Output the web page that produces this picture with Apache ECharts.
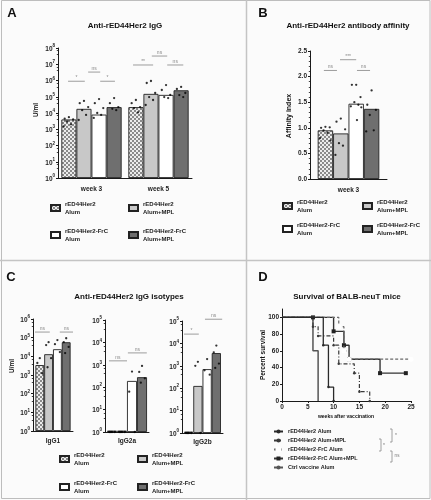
<!DOCTYPE html>
<html><head><meta charset="utf-8">
<script src="https://cdn.jsdelivr.net/npm/echarts@6/dist/echarts.min.js"></script>
<style>html,body{margin:0;padding:0;background:#fbfbfb}#c{width:431px;height:500px}</style>
</head><body><div id="c"></div>
<script>
const FONT = 'Liberation Sans, Arial, sans-serif';
const GROUPS = ['rED44Her2\nAlum', 'rED44Her2\nAlum+MPL', 'rED44Her2-FrC\nAlum', 'rED44Her2-FrC\nAlum+MPL'];

// Panel A
const A_CATEGORIES = ['week 3', 'week 5'];
const A_BARS = [[4000, 23000], [18000, 150000], [8000, 130000], [23000, 250000]];
const A_DOTS = [
  [[5500, 4500, 4000, 3000, 2000, 1500], [63000, 40000, 23000, 20000, 11000]],
  [[55000, 40000, 23000, 15000, 7600, 3700], [930000, 700000, 170000, 95000, 63000, 31000]],
  [[72000, 40000, 20000, 10000, 7600, 5000], [520000, 260000, 130000, 95000, 83000]],
  [[83000, 40000, 23000, 18000, 15000], [400000, 300000, 170000, 126000, 95000]]
];
const A_SIG = [[0.15, 0.40, 9e5, '*'], [0.45, 0.63, 3.3e6, 'ns'], [0.63, 0.85, 9e5, '*'],
               [1.12, 1.42, 9e6, '**'], [1.40, 1.63, 3.2e7, 'ns'], [1.63, 1.87, 9e6, 'ns']];

// Panel B
const B_CATEGORIES = ['week 3'];
const B_BARS = [[0.95], [0.89], [1.47], [1.37]];
const B_DOTS = [
  [[1.02, 1.0, 1.01, 0.95, 0.9, 0.8, 0.75]],
  [[1.18, 1.12, 0.97, 0.7, 0.65, 0.47]],
  [[1.84, 1.84, 1.6, 1.5, 1.45, 1.42, 1.4, 1.15]],
  [[1.73, 1.45, 1.35, 1.25, 0.95, 0.93]]
];
const B_SIG = [[0.18, 0.35, 2.12, 'ns'], [0.39, 0.60, 2.33, '***'], [0.61, 0.78, 2.12, 'ns']];

// Panel C
const C1_CATEGORIES = ['IgG1'];
const C1_BARS = [[3400], [13000], [24000], [57000]];
const C1_DOTS = [[[8000, 4400, 1250]], [[57000, 40000, 8000, 2600]], [[74000, 45000, 17000]], [[93000, 57000, 32000, 15000]]];
const C1_SIG = [[0.05, 0.42, 2e5, 'ns'], [0.67, 1.0, 2e5, 'ns']];
const C2_CATEGORIES = ['IgG2a'];
const C2_BARS = [[1.15], [1.15], [190], [280]];
const C2_DOTS = [[[1, 1, 1, 1]], [[1, 1, 1, 1]], [[500, 63, 1]], [[890, 480, 250, 160]]];
const C2_SIG = [[0.09, 0.5, 1500, 'ns'], [0.52, 0.95, 3400, 'ns']];
const C3_CATEGORIES = ['IgG2b'];
const C3_BARS = [[1.15], [126], [710], [3700]];
const C3_DOTS = [[[1, 1, 1, 1]], [[1500, 1000, 1]], [[2000, 630, 400]], [[8000, 4000, 1260, 800]]];
const C3_SIG = [[0.05, 0.41, 26000, '*'], [0.56, 0.98, 1.2e5, 'ns']];

// Panel D
const SURV_NAMES = ['rED44Her2 Alum', 'rED44Her2 Alum+MPL', 'rED44Her2-FrC Alum', 'rED44Her2-FrC Alum+MPL', 'Ctrl vaccine Alum'];
const SURV_WEEKS = [[0, 8, 9, 10], [0, 6, 7, 10, 11, 14, 15, 17], [0, 11, 12, 13, 25], [0, 6, 10, 12, 13, 19, 24], [0, 6, 7]];
const SURV_PCT = [[100, 66.7, 16.7, 0], [100, 88.9, 77.8, 66.7, 44.4, 33.3, 11.1, 0], [100, 88.9, 60, 50, 50], [100, 100, 83.3, 66.7, 50, 33.3, 33.3], [100, 60, 0]];
const D_X_TICKS = [0, 5, 10, 15, 20, 25];
const D_Y_TICKS = [0, 20, 40, 60, 80, 100];

// ---------- styles ----------
const pat = document.createElement('canvas');
pat.width = 4; pat.height = 4;
(function () { const g = pat.getContext('2d'); g.fillStyle = '#ececec'; g.fillRect(0, 0, 4, 4); g.fillStyle = '#8a8a8a'; g.fillRect(0, 0, 2, 2); g.fillRect(2, 2, 2, 2); })();
const FILLS = [{ image: pat, repeat: 'repeat' }, '#c8c8c8', '#ffffff', '#6f6f6f'];
const JIT = [0, -0.28, 0.28, -0.12, 0.14, -0.35, 0.33, 0.05];

const PANELS = [
  { grid: { left: 58, top: 48, width: 134, height: 130 }, cats: A_CATEGORIES, bars: A_BARS, dots: A_DOTS, sig: A_SIG, gap: 0.10, y: { type: 'log', min: 1, max: 1e8, splitNumber: 8 }, labMargin: 8 },
  { grid: { left: 310, top: 51, width: 77, height: 128 }, cats: B_CATEGORIES, bars: B_BARS, dots: B_DOTS, sig: B_SIG, gap: 0.20, y: { type: 'value', min: 0, max: 2.5, interval: 0.5 }, labMargin: 8 },
  { grid: { left: 33, top: 319, width: 40, height: 112 }, cats: C1_CATEGORIES, bars: C1_BARS, dots: C1_DOTS, sig: C1_SIG, gap: 0.12, y: { type: 'log', min: 1, max: 1e6, splitNumber: 6 }, labMargin: 7 },
  { grid: { left: 105, top: 320, width: 44, height: 112 }, cats: C2_CATEGORIES, bars: C2_BARS, dots: C2_DOTS, sig: C2_SIG, gap: 0.09, y: { type: 'log', min: 1, max: 1e5, splitNumber: 5 }, labMargin: 6 },
  { grid: { left: 182, top: 321, width: 41, height: 112 }, cats: C3_CATEGORIES, bars: C3_BARS, dots: C3_DOTS, sig: C3_SIG, gap: 0.10, y: { type: 'log', min: 1, max: 1e5, splitNumber: 5 }, labMargin: 6 }
];

const AX_LINE = { show: true, lineStyle: { color: '#1a1a1a', width: 1 } };
const logLabel = {
  margin: 3,
  formatter: v => '{b|10}{s|' + Math.round(Math.log10(v)) + '}',
  rich: {
    b: { fontSize: 6.5, fontWeight: 'bold', color: '#222', fontFamily: FONT, lineHeight: 9, verticalAlign: 'bottom' },
    s: { fontSize: 4.5, fontWeight: 'bold', color: '#222', fontFamily: FONT, lineHeight: 9, verticalAlign: 'top' }
  }
};

const grids = [], xAxes = [], yAxes = [], series = [], legends = [];

PANELS.forEach((p, pi) => {
  grids.push(Object.assign({ containLabel: false }, p.grid));
  const xCat = xAxes.length;
  xAxes.push({ type: 'category', gridIndex: pi, data: p.cats, axisLine: AX_LINE, axisTick: { show: false },
    axisLabel: { fontSize: 6.5, fontWeight: 'bold', color: '#222', fontFamily: FONT, margin: p.labMargin } });
  const xVal = xAxes.length;
  xAxes.push({ type: 'value', gridIndex: pi, min: 0, max: p.cats.length, show: false });
  const yAx = Object.assign({ gridIndex: pi, axisLine: AX_LINE, axisTick: { show: true, length: 2, lineStyle: { color: '#1a1a1a' } }, splitLine: { show: false } }, p.y);
  if (p.y.type === 'log') {
    yAx.logBase = 10;
    yAx.axisLabel = logLabel;
    yAx.minorTick = { show: true, splitNumber: 3, length: 1.2, lineStyle: { color: '#444' } };
  } else {
    yAx.axisLabel = { fontSize: 6.5, fontWeight: 'bold', color: '#222', fontFamily: FONT, margin: 3, formatter: v => v.toFixed(1) };
    yAx.minorTick = { show: true, splitNumber: 5, length: 1.2, lineStyle: { color: '#444' } };
  }
  yAxes.push(yAx);
  const yi = pi;
  const bw = (1 - p.gap) / 4;
  GROUPS.forEach((name, j) => {
    series.push({ type: 'bar', name, xAxisIndex: xCat, yAxisIndex: yi, data: p.bars[j], barGap: '0%',
      barCategoryGap: (p.gap * 100) + '%', itemStyle: { color: FILLS[j], borderColor: '#222', borderWidth: 0.9 }, silent: true });
  });
  GROUPS.forEach((name, j) => {
    const pts = [];
    p.dots[j].forEach((arr, ci) => arr.forEach((v, k) => {
      const cx = ci + p.gap / 2 + bw * (j + 0.5) + JIT[k % JIT.length] * bw;
      pts.push([cx, v]);
    }));
    series.push({ type: 'scatter', xAxisIndex: xVal, yAxisIndex: yi, data: pts, symbolSize: 2.3,
      itemStyle: { color: '#000' }, silent: true, z: 5 });
  });
  const sig = p.sig;
  series.push({ type: 'custom', xAxisIndex: xVal, yAxisIndex: yi, silent: true, z: 6,
    data: sig.map(s => [s[0], s[1], s[2]]), encode: { x: [0, 1], y: 2 },
    renderItem: (params, api) => {
      const s = sig[params.dataIndex];
      const p1 = api.coord([api.value(0), api.value(2)]);
      const p2 = api.coord([api.value(1), api.value(2)]);
      return { type: 'group', children: [
        { type: 'line', shape: { x1: p1[0], y1: p1[1], x2: p2[0], y2: p2[1] }, style: { stroke: '#9c9c9c', lineWidth: 1 } },
        { type: 'text', x: (p1[0] + p2[0]) / 2, y: p1[1] - 1, style: { text: s[3], fontSize: 5, fill: '#8a8a8a', align: 'center', verticalAlign: 'bottom', fontFamily: FONT } }
      ] };
    } });
});

// Legends for bar panels: [col1 left, col2 left, row1 top, row2 top]
const LEG_POS = [[50, 128, 200, 227], [282, 362, 198, 221], [59, 137, 451, 479]];
LEG_POS.forEach(pos => {
  GROUPS.forEach((name, j) => {
    legends.push({ left: pos[j % 2], top: pos[2 + Math.floor(j / 2)], data: [name], icon: 'rect', itemWidth: 9, itemHeight: 6,
      selectedMode: false, padding: 0,
      textStyle: { fontSize: 6, fontWeight: 'bold', color: '#222', lineHeight: 8, fontFamily: FONT } });
  });
});

// Panel D
const gD = grids.length;
grids.push({ left: 282, top: 309, width: 129, height: 92 });
const xD = xAxes.length;
xAxes.push({ type: 'value', gridIndex: gD, min: 0, max: 25, interval: 5, axisLine: AX_LINE, splitLine: { show: false },
  axisTick: { show: true, length: 2, lineStyle: { color: '#1a1a1a' }, customValues: D_X_TICKS },
  axisLabel: { fontSize: 6.5, fontWeight: 'bold', color: '#222', fontFamily: FONT, margin: 3, customValues: D_X_TICKS } });
const yD = yAxes.length;
yAxes.push({ type: 'value', gridIndex: gD, min: 0, max: 110, axisLine: AX_LINE, splitLine: { show: false },
  axisTick: { show: true, length: 2, lineStyle: { color: '#1a1a1a' }, customValues: D_Y_TICKS },
  axisLabel: { fontSize: 6.5, fontWeight: 'bold', color: '#222', fontFamily: FONT, margin: 3, customValues: D_Y_TICKS } });
const SURV_STYLE = [
  { line: { color: '#2a2a2a', width: 1.3, type: 'solid' }, symbol: 'circle', size: 2.5, item: { color: '#2a2a2a' } },
  { line: { color: '#3a3a3a', width: 1.2, type: [4, 2, 1, 2] }, symbol: 'circle', size: 2.5, item: { color: '#3a3a3a' } },
  { line: { color: '#6a6a6a', width: 1.2, type: [3, 2] }, symbol: 'emptyCircle', size: 3, item: { color: '#fff', borderColor: '#888', borderWidth: 0.8 } },
  { line: { color: '#333', width: 1.4, type: 'solid' }, symbol: 'rect', size: 4, item: { color: '#222' } },
  { line: { color: '#555', width: 1.5, type: 'solid' }, symbol: 'none', size: 0, item: { color: '#555' } }
];
SURV_NAMES.forEach((name, i) => {
  const st = SURV_STYLE[i];
  series.push({ type: 'line', name, xAxisIndex: xD, yAxisIndex: yD, step: 'end', silent: true,
    data: SURV_WEEKS[i].map((w, k) => k === 0 ? { value: [w, SURV_PCT[i][k]], symbol: 'none' } : [w, SURV_PCT[i][k]]),
    symbol: st.symbol, symbolSize: st.size, showSymbol: st.symbol !== 'none', lineStyle: st.line, itemStyle: st.item, z: 10 - i });
});
legends.push({ left: 273, top: 428, orient: 'vertical', itemGap: 2, itemWidth: 9, itemHeight: 5, data: SURV_NAMES,
  selectedMode: false, padding: 0, textStyle: { fontSize: 5.5, fontWeight: 'bold', color: '#222', lineHeight: 7, fontFamily: FONT } });

// ---------- graphics: frame, panel letters, titles, axis names, brackets ----------
function txt(x, y, text, size, extra) {
  return Object.assign({ type: 'text', x, y, silent: true,
    style: { text, fontSize: size, fontWeight: 'bold', fontFamily: FONT, fill: '#111', align: 'center', verticalAlign: 'middle' } }, extra || {});
}
function bracket(x, y1, y2) {
  return { type: 'polyline', silent: true, shape: { points: [[x - 2, y1], [x, y1], [x, y2], [x - 2, y2]] }, style: { stroke: '#8a8a8a', lineWidth: 0.8, fill: null } };
}
const graphics = [
  { type: 'rect', silent: true, shape: { x: 1.5, y: 0.5, width: 428.5, height: 498 }, style: { fill: null, stroke: '#bdbdbd', lineWidth: 1 } },
  { type: 'line', silent: true, shape: { x1: 246.5, y1: 0, x2: 246.5, y2: 500 }, style: { stroke: '#c4c4c4', lineWidth: 1.5 } },
  { type: 'line', silent: true, shape: { x1: 0, y1: 260.5, x2: 431, y2: 260.5 }, style: { stroke: '#c4c4c4', lineWidth: 1.5 } },
  txt(12, 13, 'A', 13), txt(263, 13, 'B', 13), txt(11, 277, 'C', 13), txt(263, 277, 'D', 13),
  txt(125, 26, 'Anti-rED44Her2 IgG', 8),
  txt(348, 26, 'Anti-rED44Her2 antibody affinity', 8),
  txt(129, 297, 'Anti-rED44Her2 IgG isotypes', 8),
  txt(347, 297, 'Survival of BALB-neuT mice', 8),
  txt(36, 110, 'U/ml', 6.5, { rotation: Math.PI / 2 }),
  txt(289, 116, 'Affinity index', 7, { rotation: Math.PI / 2 }),
  txt(12, 366, 'U/ml', 6.5, { rotation: Math.PI / 2 }),
  txt(263, 355, 'Percent survival', 6.5, { rotation: Math.PI / 2 }),
  txt(346, 417, 'weeks after vaccination', 5),
  bracket(392, 429, 442), txt(396, 436, '*', 5, { style: { text: '*', fontSize: 5, fill: '#777', fontFamily: FONT, align: 'center', verticalAlign: 'middle' } }),
  bracket(381, 439, 451), txt(384, 446, '*', 5, { style: { text: '*', fontSize: 5, fill: '#777', fontFamily: FONT, align: 'center', verticalAlign: 'middle' } }),
  bracket(392, 451, 462), txt(397, 456, 'ns', 5, { style: { text: 'ns', fontSize: 4.5, fill: '#777', fontFamily: FONT, align: 'center', verticalAlign: 'middle' } })
];

const chart = echarts.init(document.getElementById('c'), null, { renderer: 'canvas', width: 431, height: 500 });
chart.setOption({
  animation: false,
  backgroundColor: '#fbfbfb',
  textStyle: { fontFamily: FONT },
  grid: grids, xAxis: xAxes, yAxis: yAxes, legend: legends, series, graphic: graphics
});
</script></body></html>
